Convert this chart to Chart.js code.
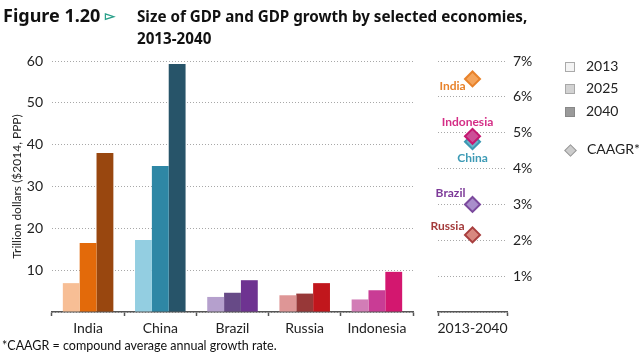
<!DOCTYPE html>
<html><head><meta charset="utf-8">
<script src="https://cdn.jsdelivr.net/npm/chart.js@4/dist/chart.umd.min.js"></script>
<style>
html,body{margin:0;padding:0;background:#fff;}
#wrap{position:relative;width:640px;height:360px;overflow:hidden;font-family:Lato,"Open Sans",sans-serif;}
canvas{position:absolute;left:0;top:0;}
#c2{pointer-events:none;}
.t1{position:absolute;left:3px;top:3px;font:bold 18px "Noto Sans",Lato,sans-serif;color:#111;white-space:nowrap;}
.t1 span{color:#2aa08a;font-size:13px;margin-left:5px;vertical-align:2px;}
.t2{position:absolute;left:137px;top:5px;font:bold 15.2px "Noto Sans",Lato,sans-serif;color:#111;line-height:22px;}
.foot{position:absolute;left:2px;top:338px;font:12.5px Lato,sans-serif;color:#111;}
.leg{position:absolute;left:565px;font:14px Lato,sans-serif;color:#222;line-height:14px;}
.leg i{display:inline-block;width:10px;height:10px;margin-right:11px;vertical-align:-1px;box-sizing:border-box;}
</style></head><body>
<div id="wrap">
<canvas id="c1" width="640" height="360"></canvas>
<canvas id="c2" width="640" height="360"></canvas>
<div class="t1">Figure 1.20<span>&#9659;</span></div>
<div class="t2">Size of GDP and GDP growth by selected economies,<br>2013-2040</div>
<div class="leg" style="top:59px"><i style="background:#f4f4f4;border:1px solid #aaa"></i>2013</div>
<div class="leg" style="top:81px"><i style="background:#d2d2d2;border:1px solid #a8a8a8"></i>2025</div>
<div class="leg" style="top:104px"><i style="background:#9a9a9a;border:1px solid #888"></i>2040</div>
<div class="leg" style="top:142px;left:566px"><i style="background:#ccc;border:1px solid #999;transform:rotate(45deg);width:9px;height:9px;margin-right:12px"></i>CAAGR*</div>
<div class="foot">*CAAGR = compound average annual growth rate.</div>
</div>
<script>
const countries = ["India","China","Brazil","Russia","Indonesia"];
const years = ["2013","2025","2040"];
const gdp2013 = [6.9, 17.2, 3.6, 4.0, 3.0];
const gdp2025 = [16.5, 34.9, 4.6, 4.4, 5.2];
const gdp2040 = [38.0, 59.3, 7.6, 6.9, 9.6];
const caagrCategory = ["2013-2040"];
const caagrCountries = ["India","China","Brazil","Russia","Indonesia"];
const caagr = [6.5, 4.75, 3.0, 2.15, 4.9];
const leftTicks = [10,20,30,40,50,60];
const rightTicks = [1,2,3,4,5,6,7];

const col2013 = ["#F7BE95","#93CEE1","#B5A0CD","#DE9696","#D27DB6"];
const col2025 = ["#E36A0A","#2E87A5","#674A87","#973838","#C93C95"];
const col2040 = ["#99470F","#275469","#6E3391","#C1161C","#D3176F"];
const dFill = {India:"#F5A55C",China:"#6DB4CA",Brazil:"#A98ECB",Russia:"#D8887F",Indonesia:"#CC4F97"};
const dBorder = {India:"#E8822A",China:"#3C98B3",Brazil:"#7B4A9D",Russia:"#A83E3E",Indonesia:"#C41870"};
const labelColor = {India:"#E8822A",China:"#3C9AB5",Brazil:"#7D3A99",Russia:"#A33A3A",Indonesia:"#D42E86"};
const labelOffset = {India:[-20,7],China:[0,16],Brazil:[-22,-11],Russia:[-25,-9],Indonesia:[-5,-14]};

const FONT = {family:"Lato, 'Open Sans', sans-serif", size:14};
const gridDots = {color:"#a8a8a8", lineWidth:1, drawTicks:false};
const dotBorder = {display:false, dash:[1,2]};

new Chart(document.getElementById('c1'), {
  type:'bar',
  data:{labels:countries, datasets:[
    {label:years[0], data:gdp2013, backgroundColor:col2013},
    {label:years[1], data:gdp2025, backgroundColor:col2025},
    {label:years[2], data:gdp2040, backgroundColor:col2040}
  ]},
  options:{
    responsive:false, animation:false,
    datasets:{bar:{categoryPercentage:0.7, barPercentage:1.0, borderWidth:0}},
    layout:{padding:{left:0, top:61, right:227, bottom:0}},
    plugins:{legend:{display:false}, tooltip:{enabled:false}},
    scales:{
      x:{
        grid:{display:true, drawOnChartArea:false, drawTicks:true, tickLength:4, color:"#555", offset:true, tickWidth:1.5},
        border:{display:true, color:"#555", width:1.5},
        ticks:{font:FONT, color:"#222", padding:4},
        afterFit(s){ s.height = 48; }
      },
      y:{
        min:0, max:60,
        afterBuildTicks(s){ s.ticks = [0].concat(leftTicks).map(v=>({value:v})); },
        grid:gridDots,
        border:dotBorder,
        ticks:{font:FONT, color:"#222", padding:9, callback:v=> v===0 ? "" : v},
        title:{display:true, text:"Trillion dollars ($2014, PPP)", font:{family:FONT.family,size:12}, color:"#222", padding:{top:10,bottom:0}},
        afterFit(s){ s.width = 52; }
      }
    }
  }
});

const nameLabels = {
  id:'nameLabels',
  afterDatasetsDraw(chart){
    const ctx = chart.ctx;
    const meta = chart.getDatasetMeta(0);
    ctx.save();
    ctx.font = "bold 12px Lato, 'Open Sans', sans-serif";
    ctx.textAlign = 'center'; ctx.textBaseline = 'middle';
    meta.data.forEach((pt,i)=>{
      const n = caagrCountries[i];
      ctx.fillStyle = labelColor[n];
      ctx.fillText(n, pt.x + labelOffset[n][0], pt.y + labelOffset[n][1]);
    });
    ctx.restore();
  }
};

new Chart(document.getElementById('c2'), {
  type:'line',
  data:{labels:caagrCategory, datasets:[{
    label:'CAAGR*',
    data:caagr.map(v=>({x:caagrCategory[0], y:v})),
    showLine:false, pointStyle:'rectRot', pointRadius:7.5,
    pointBackgroundColor:caagrCountries.map(n=>dFill[n]),
    pointBorderColor:caagrCountries.map(n=>dBorder[n]),
    pointBorderWidth:2
  }]},
  options:{
    responsive:false, animation:false,
    layout:{padding:{left:438, top:61, right:93, bottom:0}},
    plugins:{legend:{display:false}, tooltip:{enabled:false}},
    scales:{
      x:{
        offset:true,
        grid:{display:true, drawOnChartArea:false, drawTicks:true, tickLength:4, color:"#555", offset:true, tickWidth:1.5},
        border:{display:true, color:"#555", width:1.5},
        ticks:{font:FONT, color:"#222", padding:4},
        afterFit(s){ s.height = 48; }
      },
      y:{
        position:'right', min:0, max:7,
        afterBuildTicks(s){ s.ticks = [0].concat(rightTicks).map(v=>({value:v})); },
        grid:gridDots,
        border:dotBorder,
        ticks:{font:FONT, color:"#222", padding:6, callback:v=> v===0 ? "" : v+"%"},
        afterFit(s){ s.width = 40; }
      }
    }
  },
  plugins:[nameLabels]
});
</script>
</body></html>
